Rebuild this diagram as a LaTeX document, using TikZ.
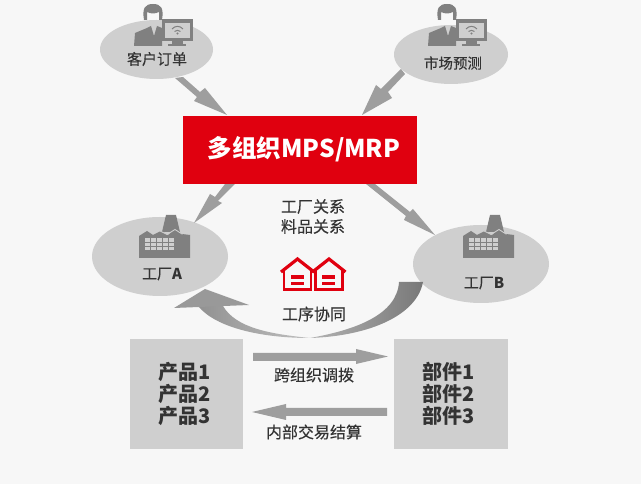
\documentclass[tikz,border=0pt]{standalone}
\usepackage{fontspec}
\setmainfont{Noto Sans CJK SC}
\newfontface\medf[FakeBold=0.25]{Noto Sans CJK SC}
\usetikzlibrary{shapes.geometric}
\definecolor{bgc}{HTML}{F7F7F7}
\definecolor{ell}{HTML}{CFCFCF}
\definecolor{arr}{HTML}{9E9E9E}
\definecolor{icon}{HTML}{808080}
\definecolor{redc}{HTML}{E0000F}
\definecolor{txt}{HTML}{333333}
\tikzset{
 ov/.style={ellipse,fill=ell,inner sep=0pt},
 lab/.style={text=txt,font=\medf\fontsize{15pt}{17pt}\selectfont,align=center,inner sep=0pt},
 lbl/.style={text=txt,font=\medf\fontsize{16pt}{20pt}\selectfont,align=center,inner sep=0pt},
 blab/.style={text=txt,font=\fontsize{20pt}{22pt}\selectfont\bfseries,align=center,inner sep=0pt},
 boxn/.style={fill=ell,inner sep=0pt,minimum width=113pt,minimum height=110pt},
 arrf/.style={fill=arr,draw=none},
 px/.style={x=1pt,y=-1pt,shift={(#1pt,484pt)}}
}
\newcommand{\person}[1]{%
 \begin{scope}[px=#1]
  % hair
  \fill[icon] (144,20) .. controls (142,8) and (145,4) .. (153,4) .. controls (161,4) and (164,8) .. (162,20) -- (159,20) -- (159,12) .. controls (155,14) and (151,14) .. (147,12) -- (147,20) -- cycle;
  % body
  \fill[icon] (134,46) -- (135,33) -- (147,28) -- (151,26) -- (154,36) -- (157,26) -- (162,28) -- (162,46) -- cycle;
  % monitor
  \fill[icon] (162,19) rectangle (193,41);
  \fill[ell] (165,23) rectangle (190,38);
  \fill[icon] (172,41) rectangle (183,44);
  \fill[icon] (168,44) rectangle (186,46);
  \draw[icon,line width=1pt] (172,29) .. controls (175,25.5) and (180,25.5) .. (183,29);
  \draw[icon,line width=1pt] (174.5,31.5) .. controls (176,30) and (179,30) .. (180.5,31.5);
  \fill[icon] (177.5,33.5) circle (1.2);
 \end{scope}}
\newcommand{\factory}[1]{%
 \begin{scope}[px=#1]
  \fill[icon] (162,232) -- (166,215) -- (176,215) -- (180,232) -- cycle;
  \fill[icon] (139,236) -- (147,231) -- (153,235) -- (161,231) -- (168,235) -- (175,229) -- (182,234) -- (190,235) -- (190,258) -- (139,258) -- cycle;
  \draw[ell,line width=0.9pt] (160,231) -- (167,234.5) -- (175,229.5) -- (182,234) -- (187,232);
  \foreach \i in {0,...,4}\foreach \j in {0,1,2}
   \fill[ell] ({145+\i*5.9},{238.5+\j*4.2}) rectangle ++(5,3.4);
 \end{scope}}
\newcommand{\house}[1]{%
 \begin{scope}[px=#1]
  \draw[redc,line width=3.2pt,miter limit=3] (-16.5,272) -- (0,259) -- (16.5,272);
  \draw[redc,line width=2.6pt] (-13.5,270) -- (-13.5,289.7) -- (13.5,289.7) -- (13.5,270);
  \fill[redc] (-7,275) rectangle (6,279);
  \fill[redc] (-7,282) rectangle (6,285.5);
 \end{scope}}
\begin{document}
\begin{tikzpicture}[x=1pt,y=1pt]
\useasboundingbox (0,0) rectangle (641,484);
\fill[bgc] (0,0) rectangle (641,484);
% ellipses
\node[ov,minimum width=113pt,minimum height=59pt] (cust) at (156.5,{484-49.5}) {};
\node[ov,minimum width=114pt,minimum height=59pt] (mark) at (451,{484-54.5}) {};
\node[ov,minimum width=136pt,minimum height=79pt] (fa) at (160,{484-256.5}) {};
\node[ov,minimum width=136pt,minimum height=78pt] (fb) at (481,{484-264}) {};
\begin{scope}[px=0]
% arrows
\fill[arr] (175,78) -- (183,77) -- (200,92) -- (205,88) -- (227,115) -- (194,101) -- (197,97) -- cycle;
\fill[arr] (401,69) -- (405,74) -- (388,92) -- (392,98) -- (362,115) -- (376,85) -- (381,89) -- cycle;
\fill[arr] (225,184) -- (235,184) -- (218,201) -- (222,203) -- (194,223) -- (210,194) -- (215,197) -- cycle;
\fill[arr] (366,184) -- (375,184) -- (410,212) -- (413,209) -- (435,235) -- (404,220) -- (406,216) -- cycle;
% curved arrow
\shade[left color=black!30,right color=black!53]
 (399,282) -- (423,282) .. controls (417,315) and (370,336) .. (310,338) .. controls (355,330) and (397,315) .. (399,282) -- cycle;
\shade[left color=black!43,right color=black!25]
 (198,306) .. controls (216,328) and (262,338) .. (310,338) .. controls (270,334) and (236,328) .. (223,306) -- cycle;
\fill[black!40] (205,289) -- (249,305) -- (174,308) -- cycle;
\end{scope}
% red box
\node[fill=redc,inner sep=0pt,minimum width=234pt,minimum height=68pt] (mps) at (300,{484-150}) {};
\node[inner sep=0pt,text=white,font=\fontsize{24.5pt}{27pt}\selectfont\bfseries] (mpst) at (304,{484-149}) {多组织MPS/MRP};
% icons
\person{0}
\person{294}
\factory{0}
\factory{324}
\house{297.5}
\house{329}
% labels
\node[lab] (n1) at (157,{484-59}) {客户订单};
\node[lab,font=\medf\fontsize{14.5pt}{17pt}\selectfont] (n2) at (453,{484-63}) {市场预测};
\node[lab] (n3) at (162,{484-274}) {工厂{\normalfont\bfseries A}};
\node[lab] (n4) at (484,{484-283}) {工厂{\normalfont\bfseries B}};
\node[lbl] (n5) at (313,{484-216.5}) {工厂关系\\料品关系};
\node[lbl] (n6) at (314,{484-314}) {工序协同};
\node[boxn] (b1) at (186.5,{484-394}) {};
\node[boxn,minimum width=114pt] (b2) at (451,{484-394}) {};
\node[blab] (b1t) at (185,{484-394}) {产品1\\产品2\\产品3};
\node[blab] (b2t) at (449,{484-394}) {部件1\\部件2\\部件3};
\node[lbl] (n7) at (314,{484-375}) {跨组织调拨};
\node[lbl] (n8) at (314,{484-432}) {内部交易结算};
% horizontal arrows
\begin{scope}[px=0]
\fill[arr] (253,353) -- (356,353) -- (356,349) -- (388,356.5) -- (356,364) -- (356,361) -- (253,361) -- cycle;
\fill[arr] (387,408) -- (286,408) -- (286,404) -- (252,412) -- (286,420) -- (286,416) -- (387,416) -- cycle;
\end{scope}
\end{tikzpicture}
\end{document}
